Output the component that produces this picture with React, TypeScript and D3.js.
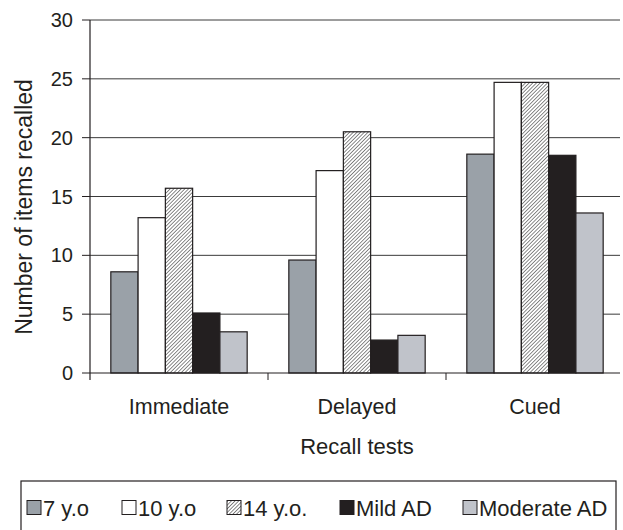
import React from 'react';
import * as d3 from 'd3';

const categories = ['Immediate', 'Delayed', 'Cued'];
const seriesNames = ['7 y.o', '10 y.o', '14 y.o.', 'Mild AD', 'Moderate AD'];
const age7 = [8.6, 9.6, 18.6];
const age10 = [13.2, 17.2, 24.7];
const age14 = [15.7, 20.5, 24.7];
const mildAD = [5.1, 2.8, 18.5];
const moderateAD = [3.5, 3.2, 13.6];
const yTicks = [0, 5, 10, 15, 20, 25, 30];

const allSeries = [age7, age10, age14, mildAD, moderateAD];
const fills = ['#9aa1a8', '#ffffff', 'url(#hatch)', '#231f20', '#c0c3ca'];
const font = 'Liberation Sans, Arial, sans-serif';

const App = () => {
    const width = 623;
    const height = 530;
    const left = 90;
    const right = 624;
    const top = 20;
    const bottom = 373;

    const yScale = d3.scaleLinear().domain([0, 30]).range([bottom, top]);
    const xScale = d3.scaleBand().domain(categories).range([left, right]);
    const bw = xScale.bandwidth();
    const inner = d3.scaleBand().domain(seriesNames).range([bw * 0.117, bw * 0.883]);

    // legend layout (swatch x positions)
    const legendX = [27, 122, 227, 340, 463];

    return (
        <svg width={width} height={height} style={{ position: 'absolute', left: 0, top: 0 }}>
            <defs>
                <pattern id="hatch" patternUnits="userSpaceOnUse" width="2.6" height="2.6" patternTransform="rotate(45)">
                    <rect width="2.6" height="2.6" fill="#fff" />
                    <line x1="0" y1="0" x2="0" y2="2.6" stroke="#2a2a2a" strokeWidth="1.1" />
                </pattern>
            </defs>
            <rect width={width} height={height} fill="#fff" />
            {/* gridlines */}
            {yTicks.filter(t => t > 0).map(t => (
                <line key={'g' + t} x1={left} x2={620} y1={yScale(t)} y2={yScale(t)} stroke="#3a3a3a" strokeWidth={1} />
            ))}
            {/* bars */}
            {categories.map((c, ci) => (
                <g key={c} transform={`translate(${xScale(c)},0)`}>
                    {allSeries.map((s, si) => (
                        <rect key={si}
                            x={inner(seriesNames[si])}
                            y={yScale(s[ci])}
                            width={inner.bandwidth()}
                            height={bottom - yScale(s[ci])}
                            fill={fills[si]}
                            stroke="#231f20"
                            strokeWidth={1.2} />
                    ))}
                </g>
            ))}
            {/* y axis */}
            <line x1={left} x2={left} y1={top} y2={bottom + 7} stroke="#231f20" strokeWidth={1.2} />
            {yTicks.map(t => (
                <g key={'y' + t}>
                    <line x1={left - 8} x2={left} y1={yScale(t)} y2={yScale(t)} stroke="#231f20" strokeWidth={1} />
                    <text x={73} y={yScale(t)} dy="0.35em" textAnchor="end" fontFamily={font} fontSize={20} fill="#231f20">{t}</text>
                </g>
            ))}
            {/* x axis */}
            <line x1={left} x2={620} y1={bottom} y2={bottom} stroke="#231f20" strokeWidth={1.2} />
            {categories.slice(1).map(c => (
                <line key={'xt' + c} x1={xScale(c)} x2={xScale(c)} y1={bottom} y2={bottom + 7} stroke="#231f20" strokeWidth={1} />
            ))}
            {categories.map(c => (
                <text key={'xl' + c} x={(xScale(c) || 0) + bw / 2} y={406} dy="0.35em" textAnchor="middle" fontFamily={font} fontSize={21.5} fill="#231f20">{c}</text>
            ))}
            <text x={(left + right) / 2} y={446} dy="0.35em" textAnchor="middle" fontFamily={font} fontSize={22} fill="#231f20">Recall tests</text>
            <text transform={`translate(24,207) rotate(-90)`} dy="0.35em" textAnchor="middle" fontFamily={font} fontSize={23} fill="#231f20">Number of items recalled</text>
            {/* legend */}
            <rect x={21} y={481} width={595} height={70} fill="none" stroke="#231f20" strokeWidth={1.2} />
            {seriesNames.map((n, i) => (
                <g key={'lg' + n}>
                    <rect x={legendX[i]} y={500.5} width={14} height={14} fill={fills[i]} stroke="#231f20" strokeWidth={1} />
                    <text x={legendX[i] + 16} y={508} dy="0.35em" fontFamily={font} fontSize={22} fill="#231f20">{n}</text>
                </g>
            ))}
        </svg>
    );
};

export default App;
